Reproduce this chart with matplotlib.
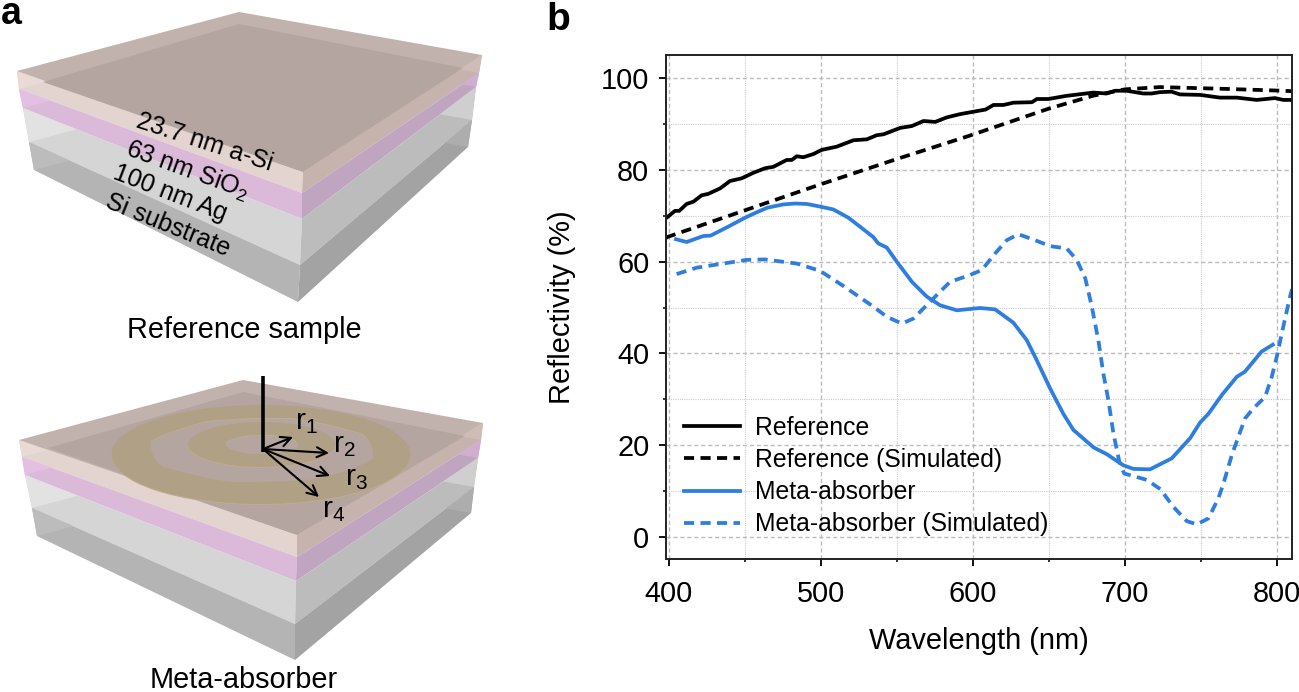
import matplotlib
matplotlib.use("agg")
import matplotlib.pyplot as plt
from matplotlib.patches import Polygon, Ellipse, PathPatch
from matplotlib.path import Path
import numpy as np

plt.rcParams["font.family"] = ["Liberation Sans", "DejaVu Sans"]
plt.rcParams["mathtext.fontset"] = "custom"
plt.rcParams["mathtext.rm"] = "Liberation Sans"
plt.rcParams["mathtext.default"] = "rm"

BLUE = "#2e7de0"

# panel b, measured curves
ref_nm = [398.2, 404.1, 406.9, 411.8, 416.2, 421.7, 426, 433.8, 440.3, 448, 455.7, 463.4, 468.8, 477.6, 480.9, 484.2, 488.6, 495.2, 500.6, 510.5, 521.5, 530.3, 536.8, 541.3, 552.3, 559.9, 567.6, 575.3, 583, 591.7, 598.3, 608.4, 613.6, 620.2, 626.8, 638.9, 642.2, 649.7, 661.9, 679.3, 688, 693.6, 701.2, 712.2, 717.7, 723.2, 730.8, 736.3, 749.5, 762.6, 773.6, 786.8, 798.8, 804.3, 810]
ref_val = [69.5, 71.1, 71.1, 72.6, 73.1, 74.5, 74.8, 76, 77.6, 78.2, 79.4, 80.4, 80.7, 82.2, 82.2, 83, 82.8, 83.5, 84.4, 85.1, 86.5, 86.7, 87.6, 87.8, 89.2, 89.6, 90.7, 90.5, 91.5, 92.2, 92.6, 93.2, 94.2, 94.2, 94.7, 94.8, 95.5, 95.5, 96.2, 96.9, 96.7, 97.3, 97.3, 96.7, 96.7, 97, 97.1, 96.5, 96.4, 95.8, 95.8, 95.3, 95.7, 95.3, 95.3]
ref_sim_nm = [398.2, 400, 500, 550, 597, 650, 679, 700, 723, 767, 804, 810]
ref_sim_val = [65.2, 65.5, 76.9, 82.4, 87.4, 93.4, 96.2, 97.6, 98.1, 97.7, 97.3, 97.2]
meta_nm = [404.8, 411.8, 422.7, 427.6, 440, 450.2, 458, 465, 475.4, 483, 490.8, 500, 508.3, 518.2, 526, 534.5, 537.8, 543.4, 550, 560, 569.7, 578.5, 589.5, 604.8, 614.7, 626.7, 635.5, 642.1, 650.8, 659.6, 666.2, 679.4, 688.2, 699, 705.6, 716.6, 730.9, 743, 749.5, 755, 763.8, 773.7, 779, 790, 797.4]
meta_val = [64.9, 64.3, 65.6, 65.7, 67.8, 69.6, 70.8, 71.8, 72.5, 72.7, 72.6, 72, 71.4, 69.6, 67.6, 65.4, 64, 63.1, 60, 55.6, 52.4, 50.5, 49.4, 49.9, 49.6, 46.7, 42.9, 38.5, 32.4, 26.8, 23.3, 19.5, 18, 15.6, 14.8, 14.7, 17.1, 21.5, 24.9, 26.8, 30.9, 34.9, 36, 40.4, 41.9]
meta_sim_nm = [405.2, 418.4, 451.3, 463.3, 484.2, 499.6, 514.9, 534.6, 543.4, 553.3, 561, 572, 585, 598.2, 606, 614.7, 622.4, 630, 641, 650.8, 661.8, 668.4, 674, 678.3, 682.6, 685.9, 689.2, 692.5, 696.4, 699.6, 714.5, 723.3, 732, 740.8, 747.4, 755, 761.6, 764.9, 770.4, 774.7, 779.1, 784.6, 792.3, 796.7, 800, 803.3, 808.7, 810]
meta_sim_val = [57.3, 58.7, 60.4, 60.5, 59.6, 58, 54.7, 50.2, 48, 46.5, 47.6, 51.3, 55.6, 57.1, 58.2, 61.8, 64.7, 66, 64.7, 63.4, 62.9, 60.4, 56.4, 50.2, 42.9, 35.6, 29.8, 22.6, 16.4, 13.8, 12.4, 10.4, 6.5, 3.4, 2.7, 4, 8.4, 11.6, 17.8, 21.8, 25.8, 28, 30.5, 34.9, 39.3, 44.4, 52.4, 54]

x_major = [400, 500, 600, 700, 800]
x_minor = [450, 550, 650, 750]
y_major = [0, 20, 40, 60, 80, 100]
y_minor = [10, 30, 50, 70, 90]

# panel a, schematic outlines in image pixels: left, front, right corners per interface
top_upper = dict(top=[(17, 71), (239, 12), (482, 55), (303, 172)],
                 inner=[(43, 82), (239, 24), (463, 68), (303, 172)])
top_lower = dict(top=[(19, 440), (243, 380), (483, 423), (297, 535)],
                 inner=[(48, 448), (243, 392), (465, 436), (297, 535)])
layers_upper = [[(17, 71), (303, 172), (482, 55)],
                [(19, 89), (302, 193), (479, 73)],
                [(23, 108), (302, 219), (476, 87)],
                [(29, 142), (300, 265), (472, 120)],
                [(34, 170), (298, 302), (468, 147)]]
layers_lower = [[(19, 440), (297, 535), (483, 423)],
                [(22, 457), (297, 557), (481, 440)],
                [(25, 475), (296, 581), (478, 458)],
                [(32, 508), (295, 624), (474, 487)],
                [(37, 536), (295, 660), (471, 513)]]
left_colors = ["#e4d4cf", "#dab9d9", "#d5d5d5", "#b4b4b4"]
right_colors = ["#c7b3ad", "#c0a5c0", "#bcbcbc", "#a3a3a3"]
left_light = ["#e9dad6", "#e3c0e3", "#e2e2e2", "#bcbcbc"]
right_light = ["#cfbcb7", "#d0aed2", "#cfcfcf", "#adadad"]

ring_outer = [(261, 454.5, 299, 99), (262, 450, 222, 64)]
ring_inner = [(261.5, 444.5, 147, 45), (262, 444.5, 72, 19)]
ring_face = "#b0a085"
ring_rim = "#bfad8c"
arrow_origin = (263, 449)
arrow_tips = [(293, 437), (329, 453), (330, 476), (319, 497)]
arrow_names = ["r$_1$", "r$_2$", "r$_3$", "r$_4$"]
arrow_label_pos = [(306, 422), (344, 445), (356.5, 478), (333.5, 510)]
layer_names = ["23.7 nm a-Si", "63 nm SiO$_2$", "100 nm Ag", "Si substrate"]
layer_label_pos = [(205, 142), (187, 170), (170, 193), (168, 225)]
layer_label_rot = [-18, -20, -21, -22]


def hit(p, d, a, b):
    # where the ray from p along d meets the segment a-b
    m = np.array([[d[0], a[0] - b[0]], [d[1], a[1] - b[1]]], dtype=float)
    t = np.linalg.solve(m, np.array([a[0] - p[0], a[1] - p[1]], dtype=float))[0]
    return (p[0] + t * d[0], p[1] + t * d[1])


def draw_block(ax, layers, top):
    back = top["top"][1]
    dl = (back[0] - layers[0][0][0], back[1] - layers[0][0][1])
    dr = (back[0] - layers[0][2][0], back[1] - layers[0][2][1])
    for i in range(4):
        a, b = layers[i], layers[i + 1]
        ax.add_patch(Polygon([a[0], a[1], b[1], b[0]], fc=left_colors[i], ec="none"))
        ax.add_patch(Polygon([a[1], a[2], b[2], b[1]], fc=right_colors[i], ec="none"))
        # back edges showing through the glassy layers
        ax.add_patch(Polygon([a[0], hit(b[0], dl, a[0], a[1]), b[0]], fc=left_light[i], ec="none"))
        ax.add_patch(Polygon([a[2], hit(b[2], dr, a[2], a[1]), b[2]], fc=right_light[i], ec="none"))
    ax.add_patch(Polygon(top["top"], fc="#c1b2ae", ec="none"))
    ax.add_patch(Polygon(top["inner"], fc="#b4a5a1", ec="none"))


def ring(ax, outer, inner, color, dy=0):
    paths = []
    for cx, cy, w, h in (outer, inner):
        e = Ellipse((cx, cy + dy), w, h)
        paths.append(e.get_patch_transform().transform_path(e.get_path()))
    verts = np.concatenate([paths[0].vertices, paths[1].vertices[::-1]])
    codes = np.concatenate([paths[0].codes, paths[1].codes])
    ax.add_patch(PathPatch(Path(verts, codes), fc=color, ec="none"))


fig = plt.figure(figsize=(12.99, 6.92), dpi=100)

# schematic layer covers the whole figure in pixel units
ax_a = fig.add_axes([0, 0, 1, 1])
ax_a.set_xlim(0, 1299)
ax_a.set_ylim(692, 0)
ax_a.axis("off")

draw_block(ax_a, layers_upper, top_upper)
draw_block(ax_a, layers_lower, top_lower)

for rr in (ring_outer, ring_inner):
    ring(ax_a, rr[0], rr[1], ring_rim, dy=1)
    ring(ax_a, rr[0], rr[1], ring_face)

ax_a.plot([263, 263], [376, 452], color="black", lw=2.6, solid_capstyle="butt")
for tip in arrow_tips:
    ax_a.annotate("", xy=tip, xytext=arrow_origin,
                  arrowprops=dict(arrowstyle="->", color="black", lw=1.5, mutation_scale=18, shrinkA=0, shrinkB=0))
for name, pos in zip(arrow_names, arrow_label_pos):
    ax_a.text(pos[0], pos[1], name, fontsize=21.5, ha="center", va="center")
for name, pos, rot in zip(layer_names, layer_label_pos, layer_label_rot):
    ax_a.text(pos[0], pos[1], name, fontsize=18, ha="center", va="center", rotation=rot, rotation_mode="anchor")

ax_a.text(244, 330, "Reference sample", fontsize=20.8, ha="center", va="center")
ax_a.text(244, 688, "Meta-absorber", fontsize=20.8, ha="center", va="baseline")
ax_a.text(1, 24, "a", fontsize=27, fontweight="bold", ha="left", va="baseline")
ax_a.text(546, 30, "b", fontsize=28, fontweight="bold", ha="left", va="baseline")

# reflectivity chart
ax = fig.add_axes([666 / 1299, (692 - 559) / 692, 626 / 1299, 504 / 692])
ax.set_xlim(398.2, 810)
ax.set_ylim(-4.86, 105.1)
ax.set_xticks(x_major)
ax.set_xticks(x_minor, minor=True)
ax.set_yticks(y_major)
ax.set_yticks(y_minor, minor=True)
ax.grid(True, which="major", color="#bbbbbb", ls=(0, (3, 2)), lw=1.0)
ax.grid(True, which="minor", color="#cccccc", ls=(0, (1, 1)), lw=0.8)
ax.set_axisbelow(True)
ax.tick_params(which="major", length=5, width=1.3, labelsize=20.8)
ax.tick_params(axis="x", which="major", pad=10)
ax.tick_params(axis="y", which="major", pad=7)
ax.tick_params(which="minor", length=2.5, width=1.1)
for s in ax.spines.values():
    s.set_linewidth(1.4)
    s.set_color("#222222")

dash = (0, (2.7, 1.7))
ax.plot(ref_nm, ref_val, color="black", lw=2.7, label="Reference")
ax.plot(ref_sim_nm, ref_sim_val, color="black", lw=2.7, ls=dash, label="Reference (Simulated)")
ax.plot(meta_nm, meta_val, color=BLUE, lw=2.7, label="Meta-absorber")
ax.plot(meta_sim_nm, meta_sim_val, color=BLUE, lw=2.7, ls=dash, label="Meta-absorber (Simulated)")

ax.set_xlabel("Wavelength (nm)", fontsize=20.9, labelpad=13.5)
ax.set_ylabel("Reflectivity (%)", fontsize=20.9, labelpad=18)
ax.legend(loc="lower left", bbox_to_anchor=(0.029, 0.045), frameon=False, fontsize=17.8,
          handlelength=2.25, handletextpad=0.6, labelspacing=0.33, borderpad=0, borderaxespad=0)

fig.savefig("out.png", dpi=100)
